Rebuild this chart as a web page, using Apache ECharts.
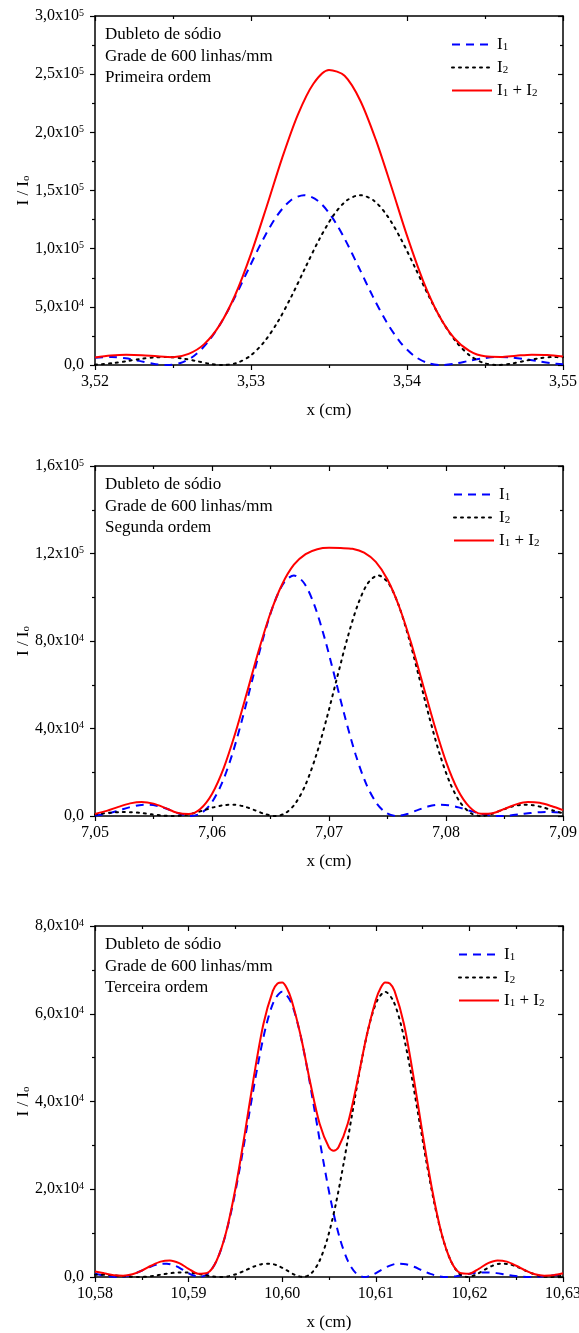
<!DOCTYPE html>
<html><head><meta charset="utf-8">
<script src="https://cdn.jsdelivr.net/npm/echarts/dist/echarts.min.js"></script>
<style>html,body{margin:0;padding:0;background:#fff}#c{width:579px;height:1333px}</style>
</head><body><div id="c"></div>
<script>
// ---------------- DATA ----------------
// Panel 1 : primeira ordem
const p1XLabels = ['3,52','3,53','3,54','3,55'];
const p1YMant = ['0,0','5,0','1,0','1,5','2,0','2,5','3,0'];
const p1YExp  = ['','4','5','5','5','5','5'];
const p1Note = 'Dubleto de sódio\nGrade de 600 linhas/mm\nPrimeira ordem';
const p1I1x = [3.52,3.52108,3.52196,3.52284,3.52372,3.5246,3.52548,3.52636,3.52724,3.52812,3.529,3.52988,3.53076,3.53164,3.53252,3.5334,3.53428,3.53516,3.53604,3.53692,3.5378,3.53868,3.53956,3.54044,3.54132,3.5422,3.54308,3.54396,3.54484,3.54572,3.5466,3.54748,3.54836,3.54924,3.55];
const p1I1y = [6263,6833,5723,3548,1168,0,1737,7986,19754,37172,59174,83629,107573,127765,141255,146000,141255,127765,107573,83629,59174,37172,19754,7986,1737,0,1168,3548,5723,6833,6570,5227,3343,1577,555];
const p1I2x = [3.52,3.52116,3.52204,3.52292,3.5238,3.52468,3.52556,3.52644,3.52732,3.5282,3.52908,3.52996,3.53084,3.53172,3.5326,3.53348,3.53436,3.53524,3.53612,3.537,3.53788,3.53876,3.53964,3.54052,3.5414,3.54228,3.54316,3.54404,3.54492,3.5458,3.54668,3.54756,3.54844,3.54932,3.55];
const p1I2y = [267,1577,3343,5227,6570,6833,5723,3548,1168,0,1737,7986,19754,37172,59174,83629,107573,127765,141255,146000,141255,127765,107573,83629,59174,37172,19754,7986,1737,0,1168,3548,5723,6833,6628];
const p1Sx = [3.520,3.521,3.522,3.523,3.524,3.525,3.526,3.527,3.528,3.529,3.530,3.531,3.532,3.533,3.534,3.535,3.536,3.537,3.538,3.539,3.540,3.541,3.542,3.543,3.544,3.545,3.546,3.547,3.548,3.549,3.550];
const p1Sy = [6526,8161,8877,8468,7417,6745,9534,17929,34485,60590,95499,136028,178076,215073,241805,253587,248594,227410,193684,153198,111164,73467,43873,23477,12060,7431,6964,8015,8891,8629,7256];

// Panel 2 : segunda ordem
const p2XLabels = ['7,05','7,06','7,07','7,08','7,09'];
const p2YMant = ['0,0','4,0','8,0','1,2','1,6'];
const p2YExp  = ['','4','4','5','5'];
const p2Note = 'Dubleto de sódio\nGrade de 600 linhas/mm\nSegunda ordem';
const p2I1x = [7.05,7.05116,7.05204,7.05292,7.0538,7.05468,7.05556,7.05644,7.05732,7.0582,7.05908,7.05996,7.06084,7.06172,7.0626,7.06348,7.06436,7.06524,7.06612,7.067,7.06788,7.06876,7.06964,7.07052,7.0714,7.07228,7.07316,7.07404,7.07492,7.0758,7.07668,7.07756,7.07844,7.07932,7.0802,7.08108,7.08196,7.08284,7.08372,7.0846,7.08548,7.08636,7.08724,7.08812,7.089,7.09];
const p2I1y = [198,1188,2519,3938,4950,5148,4312,2673,880,0,1309,6017,14883,28006,44583,63008,81048,96261,106425,110000,106425,96261,81048,63008,44583,28006,14883,6017,1309,0,880,2673,4312,5148,4950,3938,2519,1188,297,0,242,792,1375,1749,1782,1441];
const p2I2x = [7.05,7.05132,7.0522,7.05308,7.05396,7.05484,7.05572,7.0566,7.05748,7.05836,7.05924,7.06012,7.061,7.06188,7.06276,7.06364,7.06452,7.0654,7.06628,7.06716,7.06804,7.06892,7.0698,7.07068,7.07156,7.07244,7.07332,7.0742,7.07508,7.07596,7.07684,7.07772,7.0786,7.07948,7.08036,7.08124,7.08212,7.083,7.08388,7.08476,7.08564,7.08652,7.0874,7.08828,7.08916,7.09];
const p2I2y = [748,1496,1782,1749,1375,792,242,0,297,1188,2519,3938,4950,5148,4312,2673,880,0,1309,6017,14883,28006,44583,63008,81048,96261,106425,110000,106425,96261,81048,63008,44583,28006,14883,6017,1309,0,880,2673,4312,5148,4950,3938,2519,1254];
const p2Sx = [7.050,7.051,7.052,7.053,7.054,7.055,7.056,7.057,7.058,7.059,7.060,7.061,7.062,7.063,7.064,7.065,7.066,7.067,7.068,7.069,7.070,7.071,7.072,7.073,7.074,7.075,7.076,7.077,7.078,7.079,7.080,7.081,7.082,7.083,7.084,7.085,7.086,7.087,7.088,7.089,7.090];
const p2Sy = [946,2343,4169,5775,6424,5654,3696,1518,880,3223,10065,21890,38027,56639,75779,92818,105952,114873,119724,121957,122573,122485,122166,120395,116138,108097,95667,79398,60599,41745,24871,12023,4191,1023,1298,3245,5313,6402,6039,4565,2684];

// Panel 3 : terceira ordem
const p3XLabels = ['10,58','10,59','10,60','10,61','10,62','10,63'];
const p3YMant = ['0,0','2,0','4,0','6,0','8,0'];
const p3YExp  = ['','4','4','4','4'];
const p3Note = 'Dubleto de sódio\nGrade de 600 linhas/mm\nTerceira ordem';
const p3I1x = [10.58,10.58064,10.58152,10.5824,10.58328,10.58416,10.58504,10.58592,10.5868,10.58768,10.58856,10.58944,10.59032,10.5912,10.59208,10.59296,10.59384,10.59472,10.5956,10.59648,10.59736,10.59824,10.59912,10.6,10.60088,10.60176,10.60264,10.60352,10.6044,10.60528,10.60616,10.60704,10.60792,10.6088,10.60968,10.61056,10.61144,10.61232,10.6132,10.61408,10.61496,10.61584,10.61672,10.6176,10.61848,10.61936,10.62024,10.62112,10.622,10.62288,10.62376,10.62464,10.62552,10.6264,10.62728,10.62816,10.62904,10.63];
const p3I1y = [735,468,143,0,176,702,1489,2327,2925,3042,2548,1580,520,0,774,3556,8795,16549,26345,37232,47892,56882,62888,65000,62888,56882,47892,37232,26345,16549,8795,3556,774,0,520,1580,2548,3042,2925,2327,1489,702,176,0,143,468,813,1034,1053,884,592,293,78,0,66,222,396,520];
const p3I2x = [10.58,10.58108,10.58196,10.58284,10.58372,10.5846,10.58548,10.58636,10.58724,10.58812,10.589,10.58988,10.59076,10.59164,10.59252,10.5934,10.59428,10.59516,10.59604,10.59692,10.5978,10.59868,10.59956,10.60044,10.60132,10.6022,10.60308,10.60396,10.60484,10.60572,10.6066,10.60748,10.60836,10.60924,10.61012,10.611,10.61188,10.61276,10.61364,10.61452,10.6154,10.61628,10.61716,10.61804,10.61892,10.6198,10.62068,10.62156,10.62244,10.62332,10.6242,10.62508,10.62596,10.62684,10.62772,10.6286,10.62948,10.63];
const p3I2y = [533,515,396,222,66,0,78,293,592,884,1053,1034,813,468,143,0,176,702,1489,2327,2925,3042,2548,1580,520,0,774,3556,8795,16549,26345,37232,47892,56882,62888,65000,62888,56882,47892,37232,26345,16549,8795,3556,774,0,520,1580,2548,3042,2925,2327,1489,702,176,0,143,319];
const p3Sx = [10.580,10.581,10.582,10.583,10.584,10.585,10.586,10.587,10.588,10.589,10.590,10.591,10.592,10.593,10.594,10.595,10.596,10.597,10.598,10.599,10.5995,10.600,10.6005,10.601,10.602,10.603,10.604,10.605,10.6055,10.606,10.607,10.608,10.609,10.610,10.6105,10.611,10.6115,10.612,10.613,10.614,10.615,10.616,10.617,10.618,10.619,10.620,10.621,10.622,10.623,10.624,10.625,10.626,10.627,10.628,10.629,10.630];
const p3Sy = [1268,839,423,312,637,1463,2568,3510,3783,3159,1872,767,949,3770,10127,20105,32630,46014,57720,65202,66880,67106,65810,63135,54750,44265,34918,29510,28782,29510,34918,44265,54750,63135,65810,67106,66880,65202,57720,46014,32630,20105,10127,3770,949,767,1872,3159,3783,3510,2568,1463,637,312,423,839];

const seriesNames = ['I1','I2','I1 + I2'];
const legendText = {'I1':'{t|I}{s|1}','I2':'{t|I}{s|2}','I1 + I2':'{t|I}{s|1}{t| + I}{s|2}'};
const xName = 'x (cm)';
const yName = '{a|I / I}{b|o}';

// ---------------- LAYOUT ----------------
const FONT = 'Liberation Serif';
const panels = [
  {top:16, height:349, xmin:3.52, xmax:3.55, xint:0.01, ymax:300000, yint:50000,
   xl:p1XLabels, ym:p1YMant, ye:p1YExp, note:p1Note, legLeft:451,
   d:[[p1I1x,p1I1y],[p1I2x,p1I2y],[p1Sx,p1Sy]]},
  {top:466, height:350, xmin:7.05, xmax:7.09, xint:0.01, ymax:160000, yint:40000,
   xl:p2XLabels, ym:p2YMant, ye:p2YExp, note:p2Note, legLeft:453,
   d:[[p2I1x,p2I1y],[p2I2x,p2I2y],[p2Sx,p2Sy]]},
  {top:926, height:351, xmin:10.58, xmax:10.63, xint:0.01, ymax:80000, yint:20000,
   xl:p3XLabels, ym:p3YMant, ye:p3YExp, note:p3Note, legLeft:458,
   d:[[p3I1x,p3I1y],[p3I2x,p3I2y],[p3Sx,p3Sy]]}
];
const styles = [
  {color:'#0000ff', width:2, type:[8,6]},
  {color:'#000000', width:2, type:[2,5], cap:'round'},
  {color:'#ff0000', width:2, type:'solid'}
];
const pairs = (xs, ys) => xs.map((x, i) => [x, ys[i]]);
const lineC = {color:'#000', width:1.5};
const tickC = {color:'#000', width:1.2};

const option = {animation:false, backgroundColor:'#fff', grid:[], xAxis:[], yAxis:[], series:[], legend:[], title:[]};

panels.forEach((p, i) => {
  option.grid.push({left:95, right:16, top:p.top, height:p.height, containLabel:false, outerBoundsMode:'none'});
  option.xAxis.push({
    gridIndex:i, type:'value', position:'bottom', min:p.xmin, max:p.xmax, interval:p.xint,
    axisLine:{onZero:false, lineStyle:lineC},
    axisTick:{inside:false, length:5, lineStyle:tickC},
    minorTick:{show:true, splitNumber:2, length:3, lineStyle:tickC},
    splitLine:{show:false}, minorSplitLine:{show:false},
    axisLabel:{margin:9, color:'#000', fontFamily:FONT, fontSize:16, hideOverlap:false,
      formatter:(v) => p.xl[Math.round((v - p.xmin) / p.xint)] || ''},
    name:xName, nameLocation:'middle', nameGap:37, nameMoveOverlap:false,
    nameTextStyle:{color:'#000', fontFamily:FONT, fontSize:17}
  });
  option.xAxis.push({
    gridIndex:i, type:'value', position:'top', min:p.xmin, max:p.xmax, interval:p.xint,
    axisLine:{onZero:false, lineStyle:lineC},
    axisTick:{inside:true, length:5, lineStyle:tickC},
    minorTick:{show:true, splitNumber:2, length:3, lineStyle:tickC},
    splitLine:{show:false}, axisLabel:{show:false}
  });
  option.yAxis.push({
    gridIndex:i, type:'value', position:'left', min:0, max:p.ymax, interval:p.yint,
    axisLine:{onZero:false, lineStyle:lineC},
    axisTick:{inside:false, length:5, lineStyle:tickC},
    minorTick:{show:true, splitNumber:2, length:3, lineStyle:tickC},
    splitLine:{show:false},
    axisLabel:{margin:11, color:'#000',
      formatter:(v) => { const k = Math.round(v / p.yint); return p.ye[k] ? '{m|' + p.ym[k] + 'x10}{e|' + p.ye[k] + '}' : '{m|' + p.ym[k] + '}'; },
      rich:{
        m:{fontFamily:FONT, fontSize:16, color:'#000', lineHeight:16, verticalAlign:'middle'},
        e:{fontFamily:FONT, fontSize:10, color:'#000', lineHeight:10, verticalAlign:'top', padding:[0,0,10,0]}
      }},
    name:yName, nameLocation:'middle', nameGap:63, nameRotate:90, nameMoveOverlap:false,
    nameTextStyle:{rich:{
      a:{fontFamily:FONT, fontSize:17, color:'#000', lineHeight:17, verticalAlign:'middle'},
      b:{fontFamily:FONT, fontSize:11, color:'#000', lineHeight:11, verticalAlign:'bottom', padding:[10,0,0,0]}
    }}
  });
  option.yAxis.push({
    gridIndex:i, type:'value', position:'right', min:0, max:p.ymax, interval:p.yint,
    axisLine:{onZero:false, lineStyle:lineC},
    axisTick:{inside:true, length:5, lineStyle:tickC},
    minorTick:{show:true, splitNumber:2, length:3, lineStyle:tickC},
    splitLine:{show:false}, axisLabel:{show:false}
  });
  p.d.forEach((xy, j) => {
    option.series.push({
      type:'line', name:seriesNames[j], xAxisIndex:2*i, yAxisIndex:2*i,
      data:pairs(xy[0], xy[1]), symbol:'none', showSymbol:false, smooth:0.3,
      lineStyle:styles[j], itemStyle:{color:styles[j].color}, z:2+j, silent:true
    });
  });
  option.legend.push({
    orient:'vertical', left:p.legLeft, top:p.top + 14, padding:0, itemWidth:40, itemHeight:12, itemGap:0,
    data:seriesNames, selectedMode:false,
    itemStyle:{opacity:0, borderWidth:0},
    formatter:(n) => legendText[n],
    textStyle:{rich:{
      t:{fontFamily:FONT, fontSize:17, color:'#000', lineHeight:17, verticalAlign:'middle'},
      s:{fontFamily:FONT, fontSize:11, color:'#000', lineHeight:11, verticalAlign:'bottom', padding:[12,0,0,0]}
    }}
  });
  option.title.push({
    text:p.note, left:105, top:p.top + 8, padding:0,
    textStyle:{fontFamily:FONT, fontSize:17, fontWeight:'normal', color:'#000', lineHeight:21.5}
  });
});

const chart = echarts.init(document.getElementById('c'), null, {renderer:'canvas', width:579, height:1333});
chart.setOption(option);
</script>
</body></html>
